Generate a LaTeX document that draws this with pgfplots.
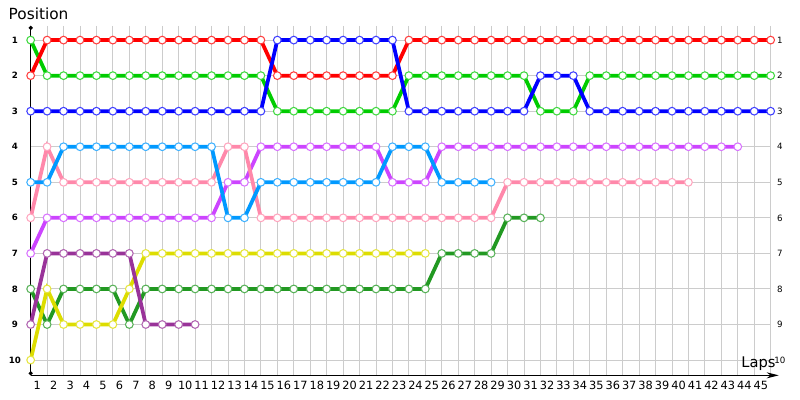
\documentclass[border=0pt]{standalone}
\usepackage{fontspec}
\setmainfont{DejaVu Sans}
\usepackage{pgfplots}
\pgfplotsset{compat=1.18}
\usetikzlibrary{arrows.meta}
\definecolor{cRed}{HTML}{FF0000}
\definecolor{cGreen}{HTML}{00CC00}
\definecolor{cBlue}{HTML}{0000FF}
\definecolor{cLBlue}{HTML}{0099FF}
\definecolor{cPink}{HTML}{FF88AA}
\definecolor{cPurple}{HTML}{CC44FF}
\definecolor{cDPurple}{HTML}{993399}
\definecolor{cYellow}{HTML}{DDDD00}
\definecolor{cDGreen}{HTML}{229922}
\pgfplotsset{
  drv/.style={line width=2.8pt, color=#1, mark=*, mark size=2.9pt,
    mark options={solid, fill=white, draw=#1!75!white, line width=0.8pt}},
}
\begin{document}
\begin{tikzpicture}
\useasboundingbox (-23.0pt,-18.5pt) rectangle (577pt,281.5pt);
\begin{axis}[
  at={(0,0)}, anchor=south west,
  scale only axis, width=555pt, height=262.1pt,
  xmin=0, xmax=45, ymin=0.6, ymax=10.43, y dir=reverse,
  axis x line=bottom, axis y line=left,
  every outer x axis line/.append style={black, line width=0.8pt, -{Stealth[length=9pt,width=4.5pt]}, shorten >=-6pt},
  every outer y axis line/.append style={black, line width=0.8pt, {Circle[length=3pt]}-{Circle[length=3pt]}},
  xtick={1,...,45}, ytick={1,...,10},
  major tick length=0pt,
  grid=major, grid style={gray!40, line width=0.7pt},
  /pgf/number format/assume math mode=true,
  xticklabel style={font=\fontsize{8.5}{10}\selectfont, xshift=-7.4pt, yshift=-1pt},
  yticklabel style={font=\fontsize{6.5}{8}\selectfont\bfseries, anchor=center, xshift=-11.8pt},
  title={Position},
  title style={font=\fontsize{11.5}{13}\selectfont, anchor=west, at={(axis description cs:-0.036,1.013)}},
  xlabel={Laps},
  xlabel style={font=\fontsize{11}{13}\selectfont, anchor=center, at={(axis description cs:0.9835,0.032)}},
  clip=false,
]
\addplot[drv=cDGreen] coordinates {(0,8)(1,9)(2,8)(3,8)(4,8)(5,8)(6,9)(7,8)(8,8)(9,8)(10,8)(11,8)(12,8)(13,8)(14,8)(15,8)(16,8)(17,8)(18,8)(19,8)(20,8)(21,8)(22,8)(23,8)(24,8)(25,7)(26,7)(27,7)(28,7)(29,6)(30,6)(31,6)};
\addplot[drv=cYellow] coordinates {(0,10)(1,8)(2,9)(3,9)(4,9)(5,9)(6,8)(7,7)(8,7)(9,7)(10,7)(11,7)(12,7)(13,7)(14,7)(15,7)(16,7)(17,7)(18,7)(19,7)(20,7)(21,7)(22,7)(23,7)(24,7)};
\addplot[drv=cDPurple] coordinates {(0,9)(1,7)(2,7)(3,7)(4,7)(5,7)(6,7)(7,9)(8,9)(9,9)(10,9)};
\addplot[drv=cPurple] coordinates {(0,7)(1,6)(2,6)(3,6)(4,6)(5,6)(6,6)(7,6)(8,6)(9,6)(10,6)(11,6)(12,5)(13,5)(14,4)(15,4)(16,4)(17,4)(18,4)(19,4)(20,4)(21,4)(22,5)(23,5)(24,5)(25,4)(26,4)(27,4)(28,4)(29,4)(30,4)(31,4)(32,4)(33,4)(34,4)(35,4)(36,4)(37,4)(38,4)(39,4)(40,4)(41,4)(42,4)(43,4)};
\addplot[drv=cPink] coordinates {(0,6)(1,4)(2,5)(3,5)(4,5)(5,5)(6,5)(7,5)(8,5)(9,5)(10,5)(11,5)(12,4)(13,4)(14,6)(15,6)(16,6)(17,6)(18,6)(19,6)(20,6)(21,6)(22,6)(23,6)(24,6)(25,6)(26,6)(27,6)(28,6)(29,5)(30,5)(31,5)(32,5)(33,5)(34,5)(35,5)(36,5)(37,5)(38,5)(39,5)(40,5)};
\addplot[drv=cLBlue] coordinates {(0,5)(1,5)(2,4)(3,4)(4,4)(5,4)(6,4)(7,4)(8,4)(9,4)(10,4)(11,4)(12,6)(13,6)(14,5)(15,5)(16,5)(17,5)(18,5)(19,5)(20,5)(21,5)(22,4)(23,4)(24,4)(25,5)(26,5)(27,5)(28,5)};
\addplot[drv=cGreen] coordinates {(0,1)(1,2)(2,2)(3,2)(4,2)(5,2)(6,2)(7,2)(8,2)(9,2)(10,2)(11,2)(12,2)(13,2)(14,2)(15,3)(16,3)(17,3)(18,3)(19,3)(20,3)(21,3)(22,3)(23,2)(24,2)(25,2)(26,2)(27,2)(28,2)(29,2)(30,2)(31,3)(32,3)(33,3)(34,2)(35,2)(36,2)(37,2)(38,2)(39,2)(40,2)(41,2)(42,2)(43,2)(44,2)(45,2)};
\addplot[drv=cRed] coordinates {(0,2)(1,1)(2,1)(3,1)(4,1)(5,1)(6,1)(7,1)(8,1)(9,1)(10,1)(11,1)(12,1)(13,1)(14,1)(15,2)(16,2)(17,2)(18,2)(19,2)(20,2)(21,2)(22,2)(23,1)(24,1)(25,1)(26,1)(27,1)(28,1)(29,1)(30,1)(31,1)(32,1)(33,1)(34,1)(35,1)(36,1)(37,1)(38,1)(39,1)(40,1)(41,1)(42,1)(43,1)(44,1)(45,1)};
\addplot[drv=cBlue] coordinates {(0,3)(1,3)(2,3)(3,3)(4,3)(5,3)(6,3)(7,3)(8,3)(9,3)(10,3)(11,3)(12,3)(13,3)(14,3)(15,1)(16,1)(17,1)(18,1)(19,1)(20,1)(21,1)(22,1)(23,3)(24,3)(25,3)(26,3)(27,3)(28,3)(29,3)(30,3)(31,2)(32,2)(33,2)(34,3)(35,3)(36,3)(37,3)(38,3)(39,3)(40,3)(41,3)(42,3)(43,3)(44,3)(45,3)};
\end{axis}
\begin{axis}[
  at={(0,0)}, anchor=south west,
  scale only axis, width=555pt, height=262.1pt,
  xmin=0, xmax=45, ymin=0.6, ymax=10.43, y dir=reverse,
  axis x line=none, axis y line*=right,
  y axis line style={draw=none},
  ytick={1,...,10}, major tick length=0pt,
  /pgf/number format/assume math mode=true,
  yticklabel style={font=\fontsize{6.5}{8}\selectfont, anchor=center, xshift=7pt},
]
\addplot[draw=none] coordinates {(0,1)};
\end{axis}
\end{tikzpicture}
\end{document}
